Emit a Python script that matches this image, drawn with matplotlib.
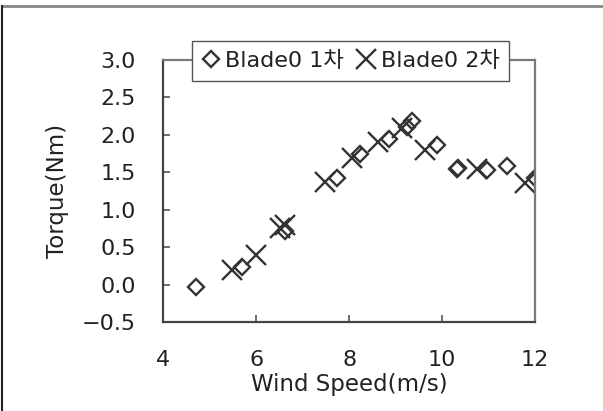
import matplotlib
matplotlib.use("Agg")
import matplotlib.pyplot as plt
from matplotlib.lines import Line2D

plt.rcParams['font.family'] = ['DejaVu Sans', 'Noto Sans CJK KR']

# first run (diamonds)
speed1 = [4.70, 5.69, 6.62, 7.73, 8.23, 8.85, 9.24, 9.35, 9.89, 10.32, 10.35, 10.97, 11.40, 12.0]
torque1 = [-0.03, 0.23, 0.71, 1.42, 1.75, 1.95, 2.11, 2.18, 1.87, 1.55, 1.56, 1.53, 1.58, 1.42]
# second run (crosses)
speed2 = [5.47, 5.99, 6.51, 6.62, 7.48, 8.06, 8.63, 9.13, 9.64, 10.75, 11.79]
torque2 = [0.20, 0.40, 0.75, 0.80, 1.37, 1.69, 1.91, 2.09, 1.80, 1.55, 1.36]

labels = ['Blade0 1차', 'Blade0 2차']
xticks = [4, 6, 8, 10, 12]
yticks = [-0.5, 0.0, 0.5, 1.0, 1.5, 2.0, 2.5, 3.0]

fig = plt.figure(figsize=(6.03, 4.11), dpi=100)
ax = fig.add_axes([0.271, 0.2165, 0.616, 0.6375])

ink = '#333333'
ax.plot(speed1, torque1, linestyle='none', marker='D', markersize=8.5,
        markerfacecolor='none', markeredgecolor=ink, markeredgewidth=1.7,
        label=labels[0])
ax.plot(speed2, torque2, linestyle='none', marker='x', markersize=14,
        markeredgecolor=ink, markeredgewidth=1.7, label=labels[1])

ax.set_xlim(4, 12)
ax.set_ylim(-0.5, 3.0)
ax.set_xticks(xticks)
ax.set_yticks(yticks)
ax.set_yticklabels(['\u22120.5' if v < 0 else f'{v:.1f}' for v in yticks])

ax.tick_params(axis='x', direction='in', length=5, width=1.2, colors='#555555',
               labelcolor='#222222', labelsize=16, pad=20)
ax.tick_params(axis='y', direction='in', length=5, width=1.2, colors='#555555',
               labelcolor='#222222', labelsize=16, pad=20)
for side in ['left', 'bottom']:
    ax.spines[side].set_color('#444444')
    ax.spines[side].set_linewidth(1.6)
for side in ['top', 'right']:
    ax.spines[side].set_color('#7a7a7a')
    ax.spines[side].set_linewidth(1.6)

ax.set_xlabel('Wind Speed(m/s)', fontsize=16.5, color='#222222', labelpad=2)
ax.set_ylabel('Torque(Nm)', fontsize=16.5, color='#222222', labelpad=9)

leg = ax.legend(loc='center', bbox_to_anchor=(0.504, 0.997), ncol=2,
                fontsize=16, frameon=True, fancybox=False, handlelength=0.8,
                handletextpad=0.25, columnspacing=0.6, borderpad=0.45,
                borderaxespad=0)
leg.get_frame().set_edgecolor('#555555')
leg.get_frame().set_linewidth(1.0)
leg.get_frame().set_alpha(1)
for t in leg.get_texts():
    t.set_color('#222222')

# page border lines on the top and left edges
fig.add_artist(Line2D([0.003, 1.0], [0.985, 0.985], color='#888888', linewidth=2))
fig.add_artist(Line2D([0.004, 0.004], [0.0, 0.985], color='#222222', linewidth=1.5))

fig.savefig('out.png', dpi=100)
